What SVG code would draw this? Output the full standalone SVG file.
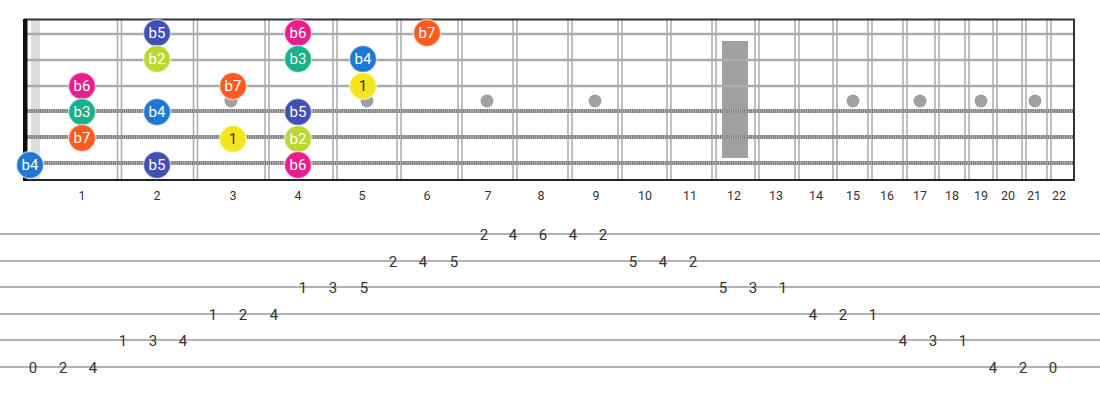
<svg xmlns="http://www.w3.org/2000/svg" width="1100" height="400" viewBox="0 0 1100 400">
<defs>
<style>
.fret{stroke:#aaa;stroke-width:1.5}
.str{stroke:#aaa;stroke-width:2.5}
.wb{stroke:#bbb;stroke-width:4}
.wd{stroke:#777;stroke-width:4;stroke-dasharray:1.2 1}
.inlay{fill:#a0a0a0}
.m circle{stroke:#fff;stroke-opacity:0.55;stroke-width:1.5}
.m text{font-family:Roboto,"Liberation Sans",sans-serif;font-size:15px;fill:#fff;text-anchor:middle;dominant-baseline:central}
.m.one text{fill:#333}
.fn{font-family:Roboto,"Liberation Sans",sans-serif;font-size:12.5px;fill:#333;text-anchor:middle}
.tl{stroke:#999;stroke-width:1.5}
.tn{font-family:Roboto,"Liberation Sans",sans-serif;font-size:15px;fill:#333;text-anchor:middle;dominant-baseline:central}
.c5{fill:#3f51b5}.c6{fill:#e91e8c}.c7{fill:#ff5a22}.c2{fill:#bcd732}.c3{fill:#19b08a}.c4{fill:#1e78d4}.c1{fill:#f5e61c}
</style>
</defs>
<rect width="1100" height="400" fill="#fff"/>
<g id="fretboard">
<rect x="31" y="19" width="9" height="161" fill="#ddd"/>
<g id="frets">
<line class="fret" x1="117.5" y1="19" x2="117.5" y2="180"/><line class="fret" x1="121.5" y1="19" x2="121.5" y2="180"/>
<line class="fret" x1="193.5" y1="19" x2="193.5" y2="180"/><line class="fret" x1="197.5" y1="19" x2="197.5" y2="180"/>
<line class="fret" x1="265" y1="19" x2="265" y2="180"/><line class="fret" x1="269" y1="19" x2="269" y2="180"/>
<line class="fret" x1="333" y1="19" x2="333" y2="180"/><line class="fret" x1="337" y1="19" x2="337" y2="180"/>
<line class="fret" x1="397" y1="19" x2="397" y2="180"/><line class="fret" x1="401" y1="19" x2="401" y2="180"/>
<line class="fret" x1="458" y1="19" x2="458" y2="180"/><line class="fret" x1="462" y1="19" x2="462" y2="180"/>
<line class="fret" x1="513" y1="19" x2="513" y2="180"/><line class="fret" x1="517" y1="19" x2="517" y2="180"/>
<line class="fret" x1="568" y1="19" x2="568" y2="180"/><line class="fret" x1="572" y1="19" x2="572" y2="180"/>
<line class="fret" x1="618" y1="19" x2="618" y2="180"/><line class="fret" x1="622" y1="19" x2="622" y2="180"/>
<line class="fret" x1="667" y1="19" x2="667" y2="180"/><line class="fret" x1="671" y1="19" x2="671" y2="180"/>
<line class="fret" x1="712" y1="19" x2="712" y2="180"/><line class="fret" x1="716" y1="19" x2="716" y2="180"/>
<line class="fret" x1="755" y1="19" x2="755" y2="180"/><line class="fret" x1="759" y1="19" x2="759" y2="180"/>
<line class="fret" x1="795" y1="19" x2="795" y2="180"/><line class="fret" x1="799" y1="19" x2="799" y2="180"/>
<line class="fret" x1="833" y1="19" x2="833" y2="180"/><line class="fret" x1="837" y1="19" x2="837" y2="180"/>
<line class="fret" x1="868" y1="19" x2="868" y2="180"/><line class="fret" x1="872" y1="19" x2="872" y2="180"/>
<line class="fret" x1="903" y1="19" x2="903" y2="180"/><line class="fret" x1="907" y1="19" x2="907" y2="180"/>
<line class="fret" x1="935" y1="19" x2="935" y2="180"/><line class="fret" x1="939" y1="19" x2="939" y2="180"/>
<line class="fret" x1="965" y1="19" x2="965" y2="180"/><line class="fret" x1="969" y1="19" x2="969" y2="180"/>
<line class="fret" x1="993" y1="19" x2="993" y2="180"/><line class="fret" x1="997" y1="19" x2="997" y2="180"/>
<line class="fret" x1="1022" y1="19" x2="1022" y2="180"/><line class="fret" x1="1026" y1="19" x2="1026" y2="180"/>
<line class="fret" x1="1047" y1="19" x2="1047" y2="180"/><line class="fret" x1="1051" y1="19" x2="1051" y2="180"/>
</g>
<g id="inlays">
<circle class="inlay" cx="231" cy="101" r="6.5"/>
<circle class="inlay" cx="367" cy="101" r="6.5"/>
<circle class="inlay" cx="487" cy="101" r="6.5"/>
<circle class="inlay" cx="595" cy="101" r="6.5"/>
<rect class="inlay" x="722" y="41" width="26" height="117"/>
<circle class="inlay" cx="853" cy="101" r="6.5"/>
<circle class="inlay" cx="920" cy="101" r="6.5"/>
<circle class="inlay" cx="981" cy="101" r="6.5"/>
<circle class="inlay" cx="1035" cy="101" r="6.5"/>
</g>
<g id="strings">
<line class="str" x1="27" y1="34" x2="1075" y2="34"/>
<line class="str" x1="27" y1="60" x2="1075" y2="60"/>
<line class="str" x1="27" y1="86" x2="1075" y2="86"/>
<line class="wb" x1="27" y1="111" x2="1075" y2="111"/><line class="wd" x1="27" y1="111" x2="1075" y2="111"/>
<line class="wb" x1="27" y1="137" x2="1075" y2="137"/><line class="wd" x1="27" y1="137" x2="1075" y2="137"/>
<line class="wb" x1="27" y1="163" x2="1075" y2="163"/><line class="wd" x1="27" y1="163" x2="1075" y2="163"/>
</g>
<line x1="24" y1="19.5" x2="1075" y2="19.5" stroke="#333" stroke-width="2"/>
<line x1="24" y1="180" x2="1075" y2="180" stroke="#222" stroke-width="2"/>
<line x1="1074" y1="19" x2="1074" y2="181" stroke="#333" stroke-width="2"/>
<rect x="23" y="19" width="4.5" height="162" fill="#111"/>
</g>
<g id="fret-numbers">
<text class="fn" x="82" y="200">1</text>
<text class="fn" x="157" y="200">2</text>
<text class="fn" x="233" y="200">3</text>
<text class="fn" x="298" y="200">4</text>
<text class="fn" x="362" y="200">5</text>
<text class="fn" x="427" y="200">6</text>
<text class="fn" x="488" y="200">7</text>
<text class="fn" x="541" y="200">8</text>
<text class="fn" x="596" y="200">9</text>
<text class="fn" x="645" y="200">10</text>
<text class="fn" x="690" y="200">11</text>
<text class="fn" x="734" y="200">12</text>
<text class="fn" x="776" y="200">13</text>
<text class="fn" x="816" y="200">14</text>
<text class="fn" x="853" y="200">15</text>
<text class="fn" x="887" y="200">16</text>
<text class="fn" x="920" y="200">17</text>
<text class="fn" x="952" y="200">18</text>
<text class="fn" x="981" y="200">19</text>
<text class="fn" x="1008" y="200">20</text>
<text class="fn" x="1034" y="200">21</text>
<text class="fn" x="1059" y="200">22</text>
</g>
<g id="markers">
<g id="m-s1-b5" class="m"><circle class="c5" cx="157" cy="33" r="13.5"/><text x="157" y="33">b5</text></g>
<g id="m-s1-b6" class="m"><circle class="c6" cx="298" cy="33" r="13.5"/><text x="298" y="33">b6</text></g>
<g id="m-s1-b7" class="m"><circle class="c7" cx="427" cy="33" r="13.5"/><text x="427" y="33">b7</text></g>
<g id="m-s2-b2" class="m"><circle class="c2" cx="157" cy="59" r="13.5"/><text x="157" y="59">b2</text></g>
<g id="m-s2-b3" class="m"><circle class="c3" cx="298" cy="59" r="13.5"/><text x="298" y="59">b3</text></g>
<g id="m-s2-b4" class="m"><circle class="c4" cx="363" cy="59" r="13.5"/><text x="363" y="59">b4</text></g>
<g id="m-s3-b6" class="m"><circle class="c6" cx="82" cy="86" r="13.5"/><text x="82" y="86">b6</text></g>
<g id="m-s3-b7" class="m"><circle class="c7" cx="233" cy="86" r="13.5"/><text x="233" y="86">b7</text></g>
<g id="m-s3-1" class="m one"><circle class="c1" cx="363" cy="86" r="13.5"/><text x="363" y="86">1</text></g>
<g id="m-s4-b3" class="m"><circle class="c3" cx="82" cy="112" r="13.5"/><text x="82" y="112">b3</text></g>
<g id="m-s4-b4" class="m"><circle class="c4" cx="157" cy="112" r="13.5"/><text x="157" y="112">b4</text></g>
<g id="m-s4-b5" class="m"><circle class="c5" cx="298" cy="112" r="13.5"/><text x="298" y="112">b5</text></g>
<g id="m-s5-b7" class="m"><circle class="c7" cx="82" cy="138" r="13.5"/><text x="82" y="138">b7</text></g>
<g id="m-s5-1" class="m one"><circle class="c1" cx="233" cy="139" r="13.5"/><text x="233" y="139">1</text></g>
<g id="m-s5-b2" class="m"><circle class="c2" cx="298" cy="139" r="13.5"/><text x="298" y="139">b2</text></g>
<g id="m-s6-b4" class="m"><circle class="c4" cx="30" cy="165" r="13.5"/><text x="30" y="165">b4</text></g>
<g id="m-s6-b5" class="m"><circle class="c5" cx="157" cy="165" r="13.5"/><text x="157" y="165">b5</text></g>
<g id="m-s6-b6" class="m"><circle class="c6" cx="298" cy="165" r="13.5"/><text x="298" y="165">b6</text></g>
</g>
<g id="tab">
<g id="tab-lines">
<line class="tl" x1="0" y1="234" x2="1100" y2="234"/>
<line class="tl" x1="0" y1="261" x2="1100" y2="261"/>
<line class="tl" x1="0" y1="287" x2="1100" y2="287"/>
<line class="tl" x1="0" y1="314" x2="1100" y2="314"/>
<line class="tl" x1="0" y1="340" x2="1100" y2="340"/>
<line class="tl" x1="0" y1="367" x2="1100" y2="367"/>
</g>
<g id="tab-numbers">
<text class="tn" x="484" y="235">2</text><text class="tn" x="513" y="235">4</text><text class="tn" x="543" y="235">6</text><text class="tn" x="573" y="235">4</text><text class="tn" x="603" y="235">2</text>
<text class="tn" x="393" y="262">2</text><text class="tn" x="423" y="262">4</text><text class="tn" x="454" y="262">5</text><text class="tn" x="633" y="262">5</text><text class="tn" x="663" y="262">4</text><text class="tn" x="693" y="262">2</text>
<text class="tn" x="303" y="288">1</text><text class="tn" x="333" y="288">3</text><text class="tn" x="364" y="288">5</text><text class="tn" x="723" y="288">5</text><text class="tn" x="753" y="288">3</text><text class="tn" x="783" y="288">1</text>
<text class="tn" x="213" y="315">1</text><text class="tn" x="243" y="315">2</text><text class="tn" x="274" y="315">4</text><text class="tn" x="813" y="315">4</text><text class="tn" x="843" y="315">2</text><text class="tn" x="873" y="315">1</text>
<text class="tn" x="123" y="341">1</text><text class="tn" x="153" y="341">3</text><text class="tn" x="183" y="341">4</text><text class="tn" x="903" y="341">4</text><text class="tn" x="933" y="341">3</text><text class="tn" x="963" y="341">1</text>
<text class="tn" x="33" y="368">0</text><text class="tn" x="63" y="368">2</text><text class="tn" x="93" y="368">4</text><text class="tn" x="993" y="368">4</text><text class="tn" x="1023" y="368">2</text><text class="tn" x="1053" y="368">0</text>
</g>
</g>
</svg>
